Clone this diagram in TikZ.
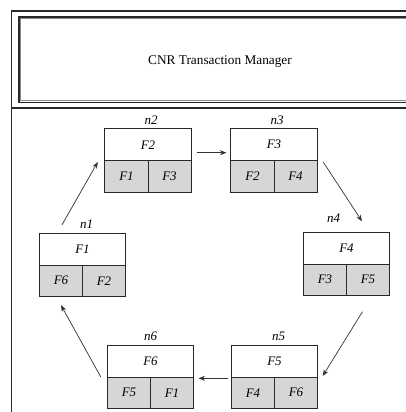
\documentclass[tikz,border=0pt]{standalone}
\usepackage{fontspec}
\setmainfont{Liberation Serif}
\usetikzlibrary{arrows.meta}
\definecolor{cellgray}{RGB}{214,214,214}
\definecolor{linegray}{RGB}{40,40,40}
\tikzset{
  frame/.style={draw=linegray, line width=1.2pt},
  innerline/.style={draw=black!45, line width=0.9pt},
  box/.style={minimum width=86pt, minimum height=63pt, inner sep=0pt, draw=none},
  boxline/.style={draw=linegray, line width=0.9pt},
  ftext/.style={inner sep=0pt, font=\fontsize{13}{15}\selectfont\itshape},
  lbl/.style={inner sep=0pt, font=\fontsize{13}{15}\selectfont\itshape},
  arr/.style={draw=black!80, line width=0.7pt, -{Stealth[length=6.5pt,width=5pt]}}
}
% one fragment node: outer box, title row, two grey cells and a name above
% #1 name, #2/#3 centre, #4 title, #5/#6 cells, #7/#8 shift of the name
\newcommand{\fragnode}[8]{%
  \node[box] (#1) at (#2,#3) {};
  \fill[cellgray] (#1.west) rectangle (#1.south east);
  \draw[boxline] (#1.north west) rectangle (#1.south east);
  \draw[boxline] (#1.west) -- (#1.east);
  \draw[boxline] (#1.center) -- (#1.south);
  \node[ftext] (#1-t) at ([yshift=15.75pt]#1.center) {#4};
  \node[ftext] (#1-a) at ([xshift=-21.5pt,yshift=-15.75pt]#1.center) {#5};
  \node[ftext] (#1-b) at ([xshift=21.5pt,yshift=-15.75pt]#1.center) {#6};
  \node[lbl] (#1-l) at ([xshift=#7,yshift=#8]#1.north) {#1};
}
\begin{document}
\begin{tikzpicture}[x=1pt,y=-1pt]
\useasboundingbox (0,0) rectangle (406,412);
\fill[white] (0,0) rectangle (406,412);

% outer frame and separator
\draw[frame] (11.5,412) -- (11.5,11) -- (406,11);
\draw[frame] (11.5,108) -- (406,108);
% manager box with double border
\draw[frame] (406,17) -- (19,17) -- (19,102.5) -- (406,102.5);
\draw[innerline] (406,18.8) -- (20.8,18.8) -- (20.8,100.7) -- (406,100.7);
\node[inner sep=0pt, font=\fontsize{13.3}{15}\selectfont] (mgr) at (220,62) {CNR Transaction Manager};

% fragment nodes
\fragnode{n1}{82.5}{265}{F1}{F6}{F2}{4pt}{9pt}
\fragnode{n2}{148}{160.5}{F2}{F1}{F3}{3pt}{9pt}
\fragnode{n3}{274}{160.5}{F3}{F2}{F4}{3pt}{9pt}
\fragnode{n4}{346.5}{264}{F4}{F3}{F5}{-13pt}{14.5pt}
\fragnode{n5}{274.5}{377}{F5}{F4}{F6}{4pt}{9pt}
\fragnode{n6}{150.5}{377}{F6}{F5}{F1}{0pt}{9pt}

% ring of connectors
\draw[arr] ([xshift=-20.5pt,yshift=8.5pt]n1.north) -- ([xshift=-7pt,yshift=-1.5pt]n2.west);
\draw[arr] ([xshift=6pt,yshift=7.8pt]n2.east) -- ([xshift=-4.3pt,yshift=7.8pt]n3.west);
\draw[arr] ([xshift=6pt,yshift=-1.5pt]n3.east) -- ([xshift=15.5pt,yshift=11pt]n4.north);
\draw[arr] ([xshift=16pt,yshift=-16pt]n4.south) -- ([xshift=5pt,yshift=1pt]n5.east);
\draw[arr] ([xshift=-3.5pt,yshift=-1.3pt]n5.west) -- ([xshift=4.8pt,yshift=-1.3pt]n6.east);
\draw[arr] ([xshift=-6.5pt]n6.west) -- ([xshift=-21.5pt,yshift=-8.5pt]n1.south);
\end{tikzpicture}
\end{document}
